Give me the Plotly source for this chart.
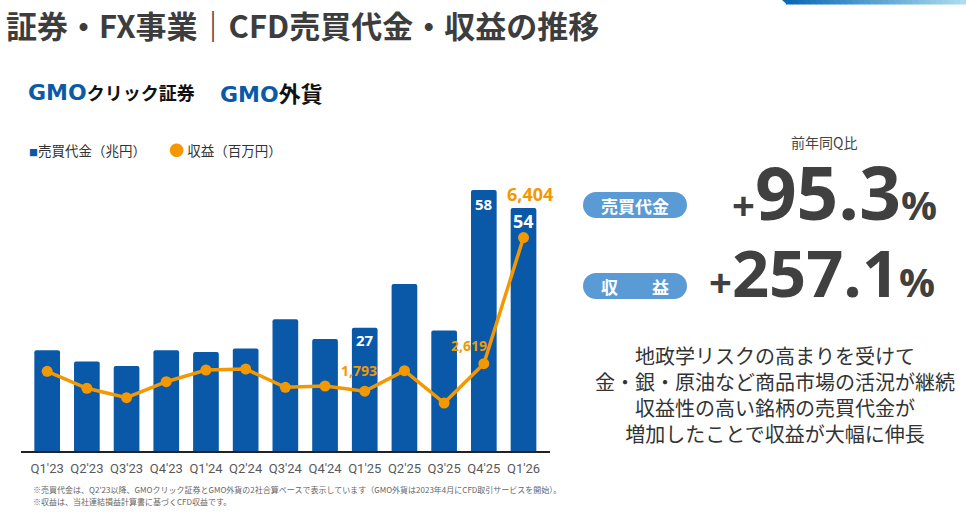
import plotly.graph_objects as go

# data
quarters = ["Q1'23", "Q2'23", "Q3'23", "Q4'23", "Q1'24", "Q2'24", "Q3'24",
            "Q4'24", "Q1'25", "Q2'25", "Q3'25", "Q4'25", "Q1'26"]
trading_value = [22.4, 19.9, 18.9, 22.4, 22.0, 22.8, 29.3, 24.9, 27.4, 37.1, 26.8, 58.0, 54.0]  # 兆円
revenue = [2391, 1881, 1599, 2079, 2430, 2460, 1911, 1950, 1793, 2409, 1440, 2619, 6404]  # 百万円
bar_label_idx = [8, 11, 12]
rev_label_idx = [8, 11, 12]

yoy_trading = "+95.3%"
yoy_revenue = "+257.1%"
comment_lines = [
    "地政学リスクの高まりを受けて",
    "金・銀・原油など商品市場の活況が継続",
    "収益性の高い銘柄の売買代金が",
    "増加したことで収益が大幅に伸長",
]

W, H = 966, 512
BLUE = "#0a58a8"
ORANGE = "#f39800"
PILL = "#5b9bd5"
JP = "Noto Sans CJK JP"
NUM = "Open Sans"


def px(x):
    return x / W


def py(y):
    return 1 - y / H


fig = go.Figure()

fig.add_trace(go.Bar(
    x=quarters, y=trading_value,
    marker=dict(color=BLUE, line=dict(width=0), cornerradius=2),
    width=0.647, yaxis="y", showlegend=False, hoverinfo="skip"
))

fig.add_trace(go.Scatter(
    x=quarters, y=revenue, yaxis="y2",
    mode="lines+markers",
    line=dict(color=ORANGE, width=3.5),
    marker=dict(color=ORANGE, size=11),
    showlegend=False, hoverinfo="skip"
))

ann = []

# bar value labels
bar_fonts = {8: 15, 11: 15, 12: 18}
bar_shift = {8: -12, 11: -14, 12: -13}
for i in bar_label_idx:
    ann.append(dict(x=quarters[i], y=trading_value[i], xref="x", yref="y",
                    text="<b>%d</b>" % round(trading_value[i]), showarrow=False,
                    yanchor="middle", yshift=bar_shift[i],
                    font=dict(family=NUM, size=bar_fonts[i], color="white")))

# revenue labels
rev_fonts = {8: 14, 11: 14, 12: 18}
rev_shift = {8: (-6, 21), 11: (-15, 18), 12: (6, 44)}
for i in rev_label_idx:
    ann.append(dict(x=quarters[i], y=revenue[i], xref="x", yref="y2",
                    text="<b>{:,}</b>".format(revenue[i]), showarrow=False,
                    xshift=rev_shift[i][0], yshift=rev_shift[i][1], yanchor="middle",
                    font=dict(family=NUM, size=rev_fonts[i], color=ORANGE)))

# title
ann.append(dict(x=px(4), y=1, xref="paper", yref="paper", xanchor="left", yanchor="top",
                text="<b>証券・FX事業｜CFD売買代金・収益の推移</b>", showarrow=False,
                font=dict(family=JP, size=31, color="#3d3d3d")))

# logos
ann.append(dict(x=px(26), y=py(92), xref="paper", yref="paper", xanchor="left", yanchor="middle",
                text="<b><span style='font-family:DejaVu Sans;font-size:22px;color:#0a5aa8'>GMO</span>クリック証券</b>",
                showarrow=False, font=dict(family=JP, size=18, color="#111")))
ann.append(dict(x=px(218), y=py(92), xref="paper", yref="paper", xanchor="left", yanchor="middle",
                text="<b><span style='font-family:DejaVu Sans;font-size:22px;color:#0a5aa8'>GMO</span>外貨</b>",
                showarrow=False, font=dict(family=JP, size=22, color="#111")))

# legend
ann.append(dict(x=px(27), y=py(149), xref="paper", yref="paper", xanchor="left", yanchor="middle",
                text="<span style='font-size:9px;color:%s'>■</span>売買代金（兆円）　　 "
                     "<span style='font-size:15px;color:%s'>●</span> 収益（百万円）" % (BLUE, ORANGE),
                showarrow=False, font=dict(family=JP, size=13.5, color="#333")))

# right panel
ann.append(dict(x=px(824), y=py(142), xref="paper", yref="paper", xanchor="center", yanchor="middle",
                text="前年同Q比", showarrow=False, font=dict(family=JP, size=14, color="#444")))
ann.append(dict(x=px(635), y=py(205), xref="paper", yref="paper", xanchor="center", yanchor="middle",
                text="<b>売買代金</b>", showarrow=False, font=dict(family=JP, size=17, color="white")))
ann.append(dict(x=px(635), y=py(286), xref="paper", yref="paper", xanchor="center", yanchor="middle",
                text="<b>収　　益</b>", showarrow=False, font=dict(family=JP, size=17, color="white")))


def big_pct(s):
    return ("<b><span style='font-size:40px'>+</span>%s"
            "<span style='font-size:40px'>%%</span></b>" % (s[1:-1]))


ann.append(dict(x=px(939), y=py(191), xref="paper", yref="paper", xanchor="right", yanchor="middle",
                text=big_pct(yoy_trading), showarrow=False,
                font=dict(family=NUM, size=73, color="#404040")))
ann.append(dict(x=px(937), y=py(272), xref="paper", yref="paper", xanchor="right", yanchor="middle",
                text=big_pct(yoy_revenue), showarrow=False,
                font=dict(family=NUM, size=65, color="#404040")))

ann.append(dict(x=px(775), y=py(394.5), xref="paper", yref="paper",
                xanchor="center", yanchor="middle", text="<br>".join(comment_lines),
                showarrow=False, align="center",
                font=dict(family=JP, size=20, color="#333")))

# footnotes
ann.append(dict(x=px(31), y=py(489), xref="paper", yref="paper", xanchor="left", yanchor="middle",
                text="※売買代金は、Q2'23以降、GMOクリック証券とGMO外貨の2社合算ベースで表示しています"
                     "（GMO外貨は2023年4月にCFD取引サービスを開始）。",
                showarrow=False, font=dict(family=JP, size=8, color="#666")))
ann.append(dict(x=px(31), y=py(501), xref="paper", yref="paper", xanchor="left", yanchor="middle",
                text="※収益は、当社連結損益計算書に基づくCFD収益です。",
                showarrow=False, font=dict(family=JP, size=8, color="#666")))

shapes = []
# pills
for top in (192, 273):
    bot = top + 26
    shapes.append(dict(type="rect", xref="paper", yref="paper", x0=px(596), x1=px(674),
                       y0=py(bot), y1=py(top), fillcolor=PILL, line=dict(width=0), layer="below"))
    for cx in (596, 674):
        shapes.append(dict(type="circle", xref="paper", yref="paper", x0=px(cx - 13), x1=px(cx + 13),
                           y0=py(bot), y1=py(top), fillcolor=PILL, line=dict(width=0), layer="below"))

# gradient strip top right
c0 = (10, 106, 181)
c1 = (172, 220, 240)
n = 30
x_start, x_end = 786, 966
for k in range(n):
    t = k / (n - 1)
    col = "rgb(%d,%d,%d)" % tuple(int(a + (b - a) * t) for a, b in zip(c0, c1))
    xa = x_start + (x_end - x_start) * k / n
    xb = x_start + (x_end - x_start) * (k + 1) / n + 0.5
    shapes.append(dict(type="rect", xref="paper", yref="paper", x0=px(xa), x1=px(xb),
                       y0=py(4.5), y1=py(0), fillcolor=col, line=dict(width=0)))
shapes.append(dict(type="path", xref="paper", yref="paper",
                   path="M %f %f L %f %f L %f %f Z" % (px(782), py(0), px(787), py(4.5), px(787), py(0)),
                   fillcolor="rgb(%d,%d,%d)" % c0, line=dict(width=0)))

fig.update_layout(
    width=W, height=H,
    margin=dict(l=0, r=0, t=0, b=0),
    paper_bgcolor="white", plot_bgcolor="white",
    xaxis=dict(domain=[px(20.7), px(550)], type="category", range=[-0.667, 12.667],
               showline=True, linecolor="#222", linewidth=1.5, ticks="",
               ticklabelstandoff=5, showgrid=False, zeroline=False,
               tickfont=dict(family="Roboto", size=13, color="#595959")),
    yaxis=dict(domain=[py(451), py(171)], range=[0, 280 / 4.5], visible=False),
    yaxis2=dict(domain=[py(451), py(171)], range=[0, 280 * 30], overlaying="y", visible=False),
    annotations=ann,
    shapes=shapes,
    bargap=0.35,
)

fig.write_html("out.html", config={"displayModeBar": False},
               post_script="document.body.style.margin='0';")
